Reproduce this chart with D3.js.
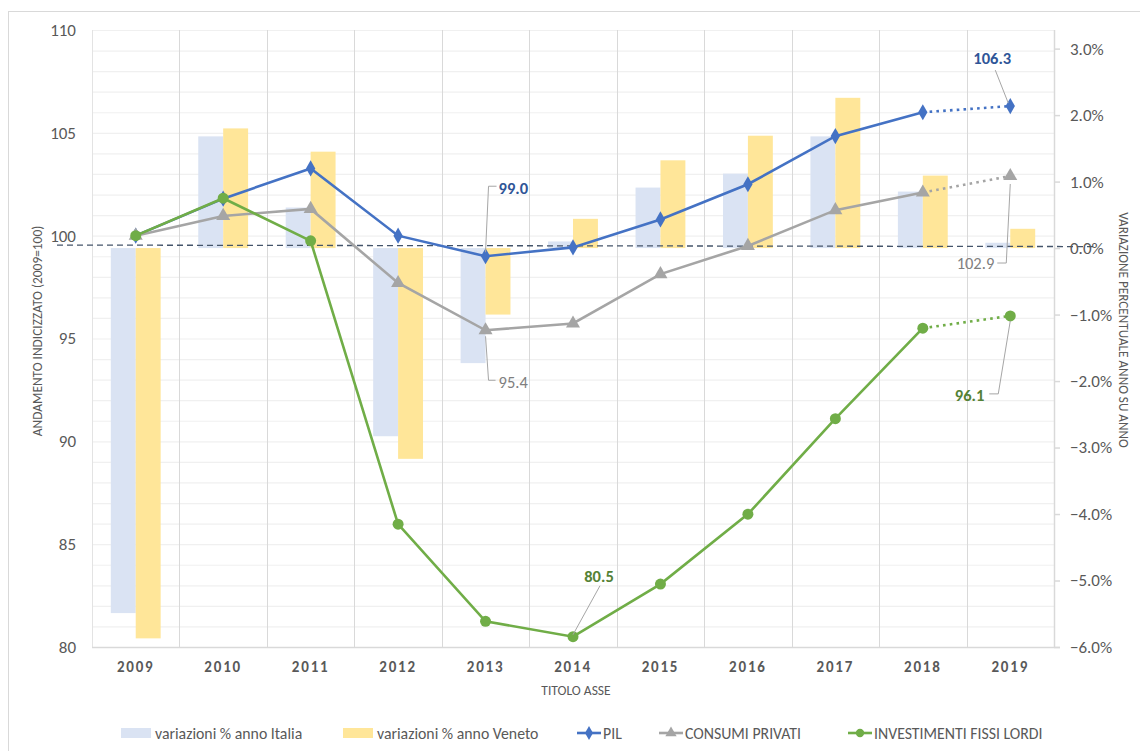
<!DOCTYPE html>
<html>
<head>
<meta charset="utf-8">
<script src="https://cdn.jsdelivr.net/npm/d3@7"></script>
<style>
  body { margin: 0; background: #fff; }
  svg text { font-family: Calibri, Carlito, "Open Sans", sans-serif; }
</style>
</head>
<body>
<div id="chart"></div>
<script>
// data
const years = ["2009", "2010", "2011", "2012", "2013", "2014", "2015", "2016", "2017", "2018", "2019"];
const varItalia = [-5.49, 1.68, 0.61, -2.83, -1.73, 0.10, 0.91, 1.12, 1.68, 0.85, 0.08];
const varVeneto = [-5.87, 1.80, 1.45, -3.17, -1.00, 0.44, 1.32, 1.69, 2.26, 1.09, 0.29];
const pil = [100, 101.8, 103.27, 100.0, 99.0, 99.43, 100.79, 102.5, 104.84, 106.0, 106.3];
const consumi = [100, 100.96, 101.3, 97.7, 95.4, 95.73, 98.13, 99.5, 101.24, 102.1, 102.9];
const investimenti = [100, 101.82, 99.75, 85.97, 81.25, 80.5, 83.06, 86.46, 91.1, 95.5, 96.1];
const leftTicks = [80, 85, 90, 95, 100, 105, 110];
const rightTicks = [-6, -5, -4, -3, -2, -1, 0, 1, 2, 3];

const width = 1140;
const height = 751;
const plot = {left: 92, right: 1054, top: 30, bottom: 647};
const font = "Calibri, Carlito, 'Open Sans', sans-serif";

const svg = d3.select("#chart").append("svg")
    .attr("width", width)
    .attr("height", height);

// chart frame
svg.append("rect")
    .attr("x", 8.5).attr("y", 11.5)
    .attr("width", width).attr("height", height)
    .attr("fill", "none").attr("stroke", "#D9D9D9");

const x = d3.scaleBand().domain(years).range([plot.left, plot.right]);
const yL = d3.scaleLinear().domain([80, 110]).range([plot.bottom, plot.top]);
const yR = d3.scaleLinear().domain([-6, 3.28]).range([plot.bottom, plot.top]);
const cx = d => x(d) + x.bandwidth() / 2;
const groupW = x.bandwidth() * 0.57;
const xs = d3.scaleBand().domain(["it", "ve"]).range([-groupW / 2, groupW / 2]);

// minor horizontal gridlines
svg.append("g").selectAll("line")
    .data(d3.range(81, 111))
    .join("line")
    .attr("x1", plot.left).attr("x2", plot.right)
    .attr("y1", d => yL(d) + 0.5).attr("y2", d => yL(d) + 0.5)
    .attr("stroke", "#F0F0F0").attr("stroke-width", 1.2);

// vertical gridlines
svg.append("g").selectAll("line")
    .data(years.slice(1))
    .join("line")
    .attr("x1", d => Math.round(x(d)) + 0.5).attr("x2", d => Math.round(x(d)) + 0.5)
    .attr("y1", plot.top).attr("y2", plot.bottom)
    .attr("stroke", "#D9D9D9");

// axis lines
svg.append("line")
    .attr("x1", plot.left + 0.5).attr("x2", plot.left + 0.5)
    .attr("y1", plot.top).attr("y2", plot.bottom)
    .attr("stroke", "#E3E3E3");
svg.append("line")
    .attr("x1", plot.left).attr("x2", plot.right + 6)
    .attr("y1", plot.bottom + 0.5).attr("y2", plot.bottom + 0.5)
    .attr("stroke", "#D9D9D9").attr("stroke-width", 1.5);

// bars
const bars = svg.append("g");
bars.selectAll("rect.it")
    .data(years)
    .join("rect")
    .attr("class", "it")
    .attr("x", (d, i) => cx(d) + xs("it"))
    .attr("width", xs.bandwidth())
    .attr("y", (d, i) => yR(Math.max(0, varItalia[i])))
    .attr("height", (d, i) => Math.abs(yR(varItalia[i]) - yR(0)))
    .attr("fill", "#DAE3F3");
bars.selectAll("rect.ve")
    .data(years)
    .join("rect")
    .attr("class", "ve")
    .attr("x", (d, i) => cx(d) + xs("ve"))
    .attr("width", xs.bandwidth())
    .attr("y", (d, i) => yR(Math.max(0, varVeneto[i])))
    .attr("height", (d, i) => Math.abs(yR(varVeneto[i]) - yR(0)))
    .attr("fill", "#FFE699");

// dashed reference line at 0%
svg.append("line")
    .attr("x1", 57).attr("x2", 1097)
    .attr("y1", yR(0) - 3).attr("y2", yR(0) - 1.5)
    .attr("stroke", "#44546A").attr("stroke-width", 1.3)
    .attr("stroke-dasharray", "6,4");

// left axis
const axL = svg.append("g")
    .attr("transform", `translate(${plot.left},0)`)
    .call(d3.axisLeft(yL).tickValues(leftTicks).tickSize(0).tickPadding(16));
axL.select(".domain").remove();
axL.selectAll("text").attr("font-size", 17).attr("fill", "#595959")
    .style("font-family", font);

// right axis
const axR = svg.append("g")
    .attr("transform", `translate(${plot.right},0)`)
    .call(d3.axisRight(yR).tickValues(rightTicks).tickSize(6).tickPadding(10)
        .tickFormat(d => d3.format(".1f")(d) + "%"));
axR.select(".domain").attr("stroke", "#D9D9D9").attr("stroke-width", 1.5)
    .attr("d", `M0.5,${plot.top}V${plot.bottom}`);
axR.selectAll(".tick line").attr("stroke", "#D9D9D9").attr("stroke-width", 1.5);
axR.selectAll("text").attr("font-size", 17).attr("fill", "#595959")
    .style("font-family", font);

// bottom axis labels
const axB = svg.append("g")
    .attr("transform", `translate(0,${plot.bottom})`)
    .call(d3.axisBottom(x).tickSize(0).tickPadding(14));
axB.select(".domain").remove();
axB.selectAll("text").attr("font-size", 15).attr("font-weight", "bold")
    .attr("fill", "#595959").attr("letter-spacing", 1.8)
    .style("font-family", font);

// axis titles
svg.append("text")
    .attr("x", 576).attr("y", 695)
    .attr("text-anchor", "middle")
    .attr("font-size", 13.5).attr("fill", "#595959")
    .text("TITOLO ASSE");
svg.append("text")
    .attr("transform", "translate(42,331) rotate(-90)")
    .attr("text-anchor", "middle")
    .attr("font-size", 13.4).attr("fill", "#595959")
    .text("ANDAMENTO INDICIZZATO (2009=100)");
svg.append("text")
    .attr("transform", "translate(1119,330) rotate(90)")
    .attr("text-anchor", "middle")
    .attr("font-size", 13.2).attr("fill", "#595959")
    .text("VARIAZIONE PERCENTUALE ANNO SU ANNO");

// lines
const series = [
    {name: "PIL", values: pil, color: "#4472C4", marker: d3.symbolDiamond, size: 75},
    {name: "CONSUMI PRIVATI", values: consumi, color: "#A5A5A5", marker: d3.symbolTriangle, size: 85},
    {name: "INVESTIMENTI FISSI LORDI", values: investimenti, color: "#70AD47", marker: d3.symbolCircle, size: 95}
];
const line = d3.line().x(d => cx(d.year)).y(d => yL(d.v));

series.forEach(s => {
    const pts = years.map((y, i) => ({year: y, v: s.values[i]}));
    const g = svg.append("g");
    g.append("path")
        .datum(pts.slice(0, 10))
        .attr("d", line)
        .attr("fill", "none").attr("stroke", s.color).attr("stroke-width", 2.6);
    g.append("path")
        .datum(pts.slice(9))
        .attr("d", line)
        .attr("fill", "none").attr("stroke", s.color).attr("stroke-width", 2.6)
        .attr("stroke-dasharray", "2.6,4.2");
    g.selectAll("path.m")
        .data(pts)
        .join("path")
        .attr("class", "m")
        .attr("transform", d => `translate(${cx(d.year)},${yL(d.v)})`)
        .attr("d", d3.symbol().type(s.marker).size(s.size))
        .attr("fill", s.color);
});

// data labels with leader lines
const labels = [
    {text: "106.3", year: "2019", v: 106.3, color: "#2F5597", bold: true, tx: -18, ty: -48, anchor: "middle", leader: [[-15, -36], [-2, -3]]},
    {text: "99.0", year: "2013", v: 99.0, color: "#2F5597", bold: true, tx: 13, ty: -68, anchor: "start", leader: [[11, -70], [3, -70], [0, -4]]},
    {text: "95.4", year: "2013", v: 95.4, color: "#7F7F7F", bold: false, tx: 13, ty: 52, anchor: "start", leader: [[10, 50], [3, 50], [0, 6]]},
    {text: "102.9", year: "2019", v: 102.9, color: "#7F7F7F", bold: false, tx: -16, ty: 87, anchor: "end", leader: [[-13, 87], [-4, 87], [0, 8]]},
    {text: "80.5", year: "2014", v: 80.5, color: "#548235", bold: true, tx: 26, ty: -60, anchor: "middle", leader: [[27, -51], [0, -2]]},
    {text: "96.1", year: "2019", v: 96.1, color: "#548235", bold: true, tx: -26, ty: 79, anchor: "end", leader: [[-21, 78], [-12, 78], [0, 5]]}
];
labels.forEach(l => {
    const px = cx(l.year), py = yL(l.v);
    svg.append("path")
        .attr("d", d3.line()(l.leader.map(p => [px + p[0], py + p[1]])))
        .attr("fill", "none").attr("stroke", "#A6A6A6").attr("stroke-width", 1);
    svg.append("text")
        .attr("x", px + l.tx).attr("y", py + l.ty)
        .attr("dy", "0.35em")
        .attr("text-anchor", l.anchor)
        .attr("font-size", 16.5)
        .attr("font-weight", l.bold ? "bold" : "normal")
        .attr("fill", l.color)
        .text(l.text);
});

// legend
const legendY = 733;
const legendItems = [
    {label: "variazioni % anno Italia", type: "bar", color: "#DAE3F3", x: 121},
    {label: "variazioni % anno Veneto", type: "bar", color: "#FFE699", x: 343},
    {label: "PIL", type: "line", color: "#4472C4", marker: d3.symbolDiamond, x: 577},
    {label: "CONSUMI PRIVATI", type: "line", color: "#A5A5A5", marker: d3.symbolTriangle, x: 659},
    {label: "INVESTIMENTI FISSI LORDI", type: "line", color: "#70AD47", marker: d3.symbolCircle, x: 848}
];
const lg = svg.append("g");
legendItems.forEach(it => {
    if (it.type === "bar") {
        lg.append("rect")
            .attr("x", it.x).attr("y", legendY - 5)
            .attr("width", 30).attr("height", 10)
            .attr("fill", it.color);
    } else {
        lg.append("line")
            .attr("x1", it.x).attr("x2", it.x + 24)
            .attr("y1", legendY).attr("y2", legendY)
            .attr("stroke", it.color).attr("stroke-width", 2.6);
        lg.append("path")
            .attr("transform", `translate(${it.x + 12},${legendY})`)
            .attr("d", d3.symbol().type(it.marker).size(55))
            .attr("fill", it.color);
    }
    lg.append("text")
        .attr("x", it.x + (it.type === "bar" ? 34 : 26))
        .attr("y", legendY).attr("dy", "0.35em")
        .attr("font-size", 15.8).attr("fill", "#595959")
        .text(it.label);
});
</script>
</body>
</html>
